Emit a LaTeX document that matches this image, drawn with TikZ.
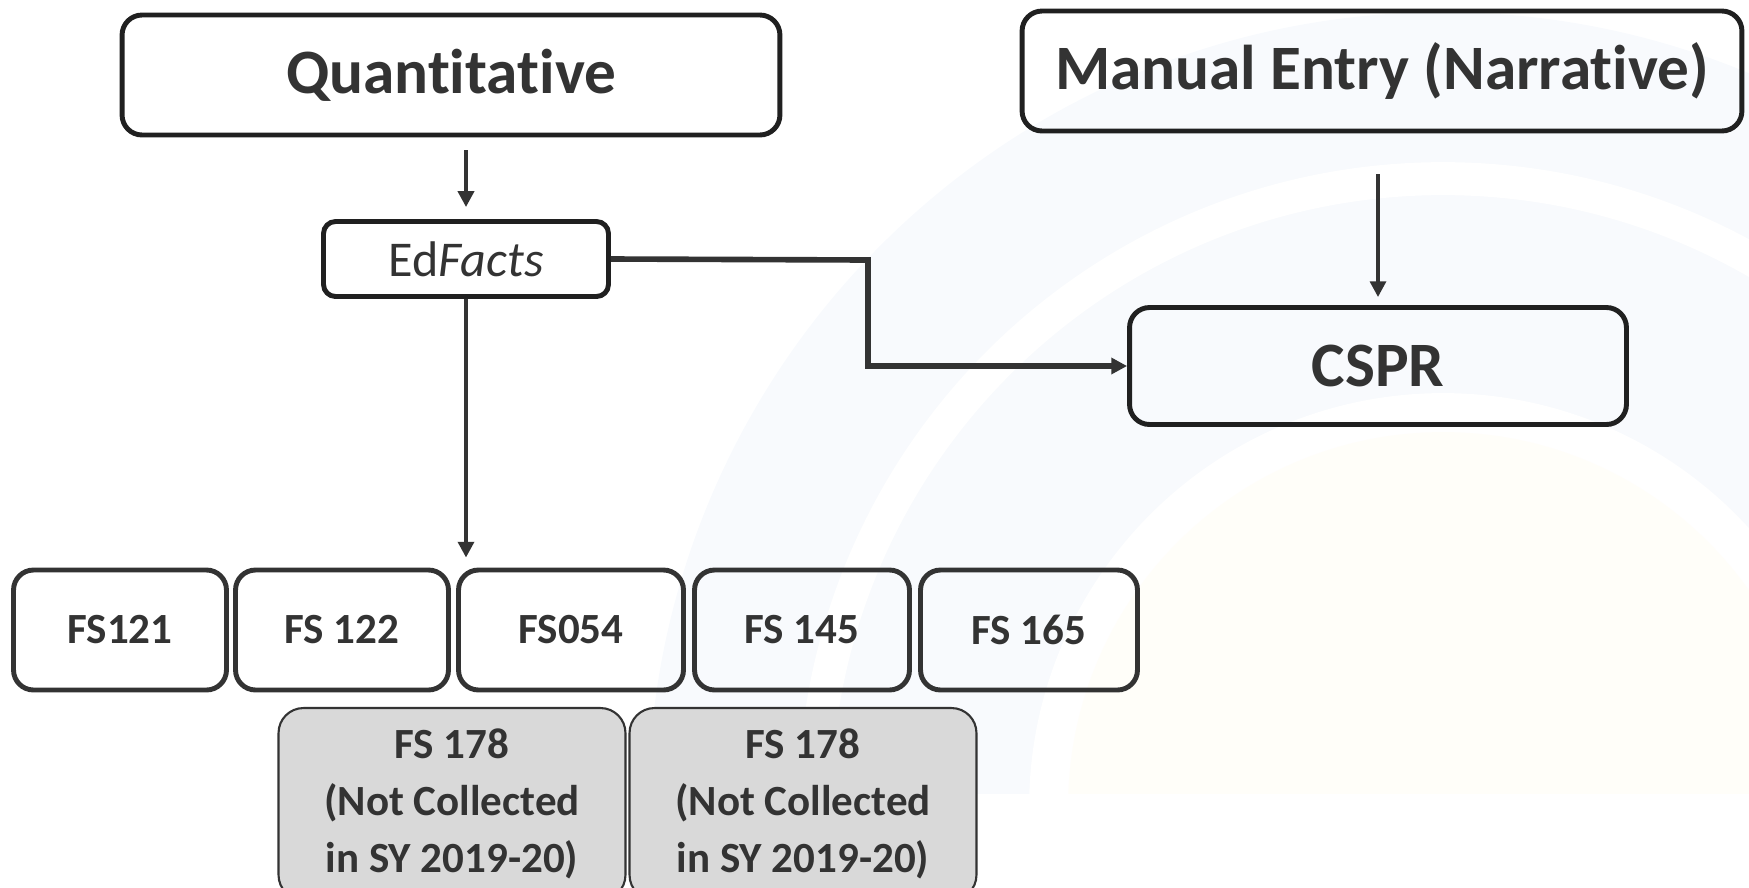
\documentclass[tikz,border=0pt]{standalone}
\usepackage{fontspec}
\setmainfont{Carlito}[Ligatures=NoCommon]
\usetikzlibrary{positioning,arrows.meta}

\definecolor{ink}{HTML}{333333}
\definecolor{edge}{HTML}{202020}
\definecolor{greyfill}{HTML}{D9D9D9}
\definecolor{wash}{HTML}{F8FAFD}
\definecolor{cream}{HTML}{FFFEF9}

\begin{document}
\begin{tikzpicture}[x=0.02cm, y=-0.02cm,
  >={Triangle[length=9pt,width=9pt]},
  every node/.style={text=ink},
  box/.style={draw=edge, line width=2.8pt, rounded corners=0.4cm, align=center, inner sep=0pt},
  head/.style={box, font=\fontsize{36}{40}\selectfont\bfseries, minimum height=2.4cm},
  fsbox/.style={box, draw=ink, font=\fontsize{24.5}{30}\selectfont\bfseries, minimum height=2.4cm},
  oldbox/.style={draw=ink, line width=1.2pt, fill=greyfill, rounded corners=0.5cm, align=center,
    font=\fontsize{24.5}{32.4}\selectfont\bfseries, minimum width=6.94cm, minimum height=3.84cm, inner sep=0pt},
  link/.style={->, draw=ink, line width=2.2pt}]
  \useasboundingbox (0,0) rectangle (1749,887);

  % faint backdrop
  \begin{scope}
    \clip (0,0) rectangle (1749,793);
    \fill[wash] (1443,807) circle (15.9cm);
    \draw[white, line width=0.66cm] (1443,807) circle (12.57cm);
    \fill[white] (1443,807) circle (8.28cm);
    \fill[cream] (1443,807) circle (7.5cm);
  \end{scope}

  % sources
  \node[head, minimum width=13.16cm] (quant) at (451,75) {Quantitative};
  \node[head, minimum width=14.4cm] (manual) at (1382,71) {Manual Entry (Narrative)};
  \node[box, rounded corners=0.24cm, minimum width=5.7cm, minimum height=1.5cm,
    font=\fontsize{28.5}{32}\selectfont] (ed) at (466,259) {Ed\textit{Facts}};
  \node[head, minimum width=9.94cm, minimum height=2.34cm] (cspr) at (1378,366) {CSPR};

  % file specs
  \node[fsbox, minimum width=4.26cm] (fs121) at (120,630) {FS121};
  \node[fsbox, minimum width=4.26cm] (fs122) at (342,630) {FS 122};
  \node[fsbox, minimum width=4.5cm]  (fs054) at (571,630) {FS054};
  \node[fsbox, minimum width=4.3cm]  (fs145) at (802,630) {FS 145};
  \node[fsbox, minimum width=4.34cm] (fs165) at (1029,630) {FS 165};

  \node[oldbox] (fs178a) at (452,804) {FS 178\\(Not Collected\\in SY 2019-20)};
  \node[oldbox] (fs178b) at (803,804) {FS 178\\(Not Collected\\in SY 2019-20)};

  % connectors
  \coordinate (bend) at (868,260);
  \draw[link, shorten <=0.26cm, shorten >=0.24cm] (quant.south -| ed.north) -- (ed.north);
  \draw[link, shorten <=0.82cm, shorten >=0.16cm] (manual.south -| cspr.north) -- (cspr.north);
  \draw[link, line width=2.6pt, shorten >=0.2cm] (ed.south) -- (ed.south |- fs054.north);
  \draw[link, line width=3.2pt] (ed.east) -- (bend) |- (cspr.west);
\end{tikzpicture}
\end{document}
